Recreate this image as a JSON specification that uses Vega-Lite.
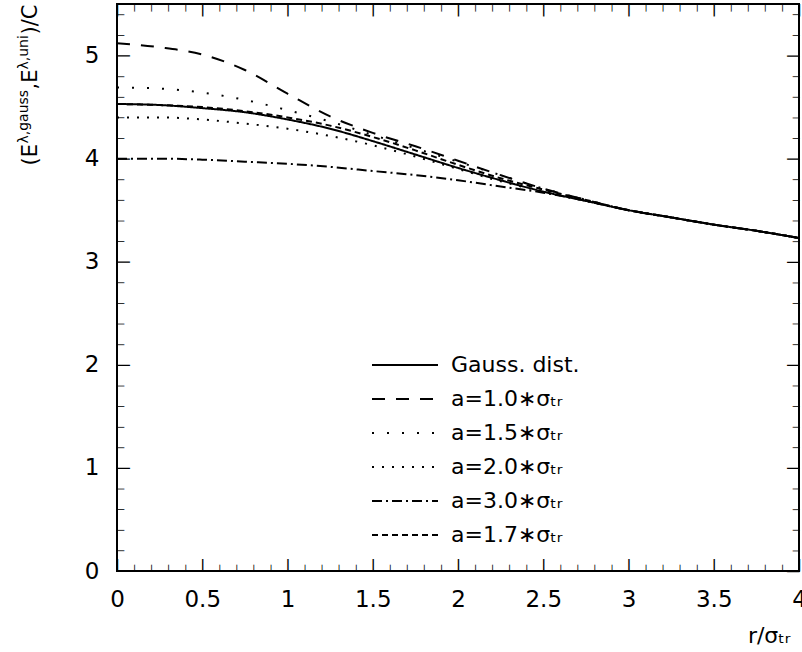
{
  "$schema": "https://vega.github.io/schema/vega-lite/v6.json",
  "width": 682,
  "height": 567,
  "autosize": {"type": "none"},
  "padding": {"left": 117, "top": 4, "right": 3, "bottom": 81},
  "background": "white",
  "config": {
    "font": "DejaVu Sans",
    "view": {"stroke": "black", "strokeWidth": 2},
    "axis": {
      "domain": false,
      "ticks": false,
      "grid": false,
      "labelFont": "DejaVu Sans",
      "labelFontSize": 23,
      "labelColor": "black",
      "labelOverlap": false,
      "labelFlush": false,
      "titleFont": "DejaVu Sans",
      "titleColor": "black",
      "titleFontWeight": "normal"
    }
  },
  "datasets": {
    "curves": [
      {"r": 0, "E": 4.53, "curve": "Gauss. dist."},
      {"r": 0.25, "E": 4.52, "curve": "Gauss. dist."},
      {"r": 0.5, "E": 4.49, "curve": "Gauss. dist."},
      {"r": 0.75, "E": 4.45, "curve": "Gauss. dist."},
      {"r": 1.0, "E": 4.38, "curve": "Gauss. dist."},
      {"r": 1.25, "E": 4.29, "curve": "Gauss. dist."},
      {"r": 1.5, "E": 4.17, "curve": "Gauss. dist."},
      {"r": 1.75, "E": 4.04, "curve": "Gauss. dist."},
      {"r": 2.0, "E": 3.91, "curve": "Gauss. dist."},
      {"r": 2.25, "E": 3.79, "curve": "Gauss. dist."},
      {"r": 2.5, "E": 3.68, "curve": "Gauss. dist."},
      {"r": 2.75, "E": 3.59, "curve": "Gauss. dist."},
      {"r": 3.0, "E": 3.50, "curve": "Gauss. dist."},
      {"r": 3.25, "E": 3.43, "curve": "Gauss. dist."},
      {"r": 3.5, "E": 3.36, "curve": "Gauss. dist."},
      {"r": 3.75, "E": 3.30, "curve": "Gauss. dist."},
      {"r": 4.0, "E": 3.23, "curve": "Gauss. dist."},

      {"r": 0, "E": 5.12, "curve": "a=1.0∗σₜᵣ"},
      {"r": 0.25, "E": 5.08, "curve": "a=1.0∗σₜᵣ"},
      {"r": 0.5, "E": 5.01, "curve": "a=1.0∗σₜᵣ"},
      {"r": 0.75, "E": 4.86, "curve": "a=1.0∗σₜᵣ"},
      {"r": 1.0, "E": 4.63, "curve": "a=1.0∗σₜᵣ"},
      {"r": 1.25, "E": 4.41, "curve": "a=1.0∗σₜᵣ"},
      {"r": 1.5, "E": 4.25, "curve": "a=1.0∗σₜᵣ"},
      {"r": 1.75, "E": 4.12, "curve": "a=1.0∗σₜᵣ"},
      {"r": 2.0, "E": 3.98, "curve": "a=1.0∗σₜᵣ"},
      {"r": 2.25, "E": 3.84, "curve": "a=1.0∗σₜᵣ"},
      {"r": 2.5, "E": 3.71, "curve": "a=1.0∗σₜᵣ"},
      {"r": 2.75, "E": 3.60, "curve": "a=1.0∗σₜᵣ"},
      {"r": 3.0, "E": 3.50, "curve": "a=1.0∗σₜᵣ"},
      {"r": 3.25, "E": 3.43, "curve": "a=1.0∗σₜᵣ"},
      {"r": 3.5, "E": 3.36, "curve": "a=1.0∗σₜᵣ"},
      {"r": 3.75, "E": 3.30, "curve": "a=1.0∗σₜᵣ"},
      {"r": 4.0, "E": 3.23, "curve": "a=1.0∗σₜᵣ"},

      {"r": 0, "E": 4.69, "curve": "a=1.5∗σₜᵣ"},
      {"r": 0.25, "E": 4.68, "curve": "a=1.5∗σₜᵣ"},
      {"r": 0.5, "E": 4.64, "curve": "a=1.5∗σₜᵣ"},
      {"r": 0.75, "E": 4.57, "curve": "a=1.5∗σₜᵣ"},
      {"r": 1.0, "E": 4.47, "curve": "a=1.5∗σₜᵣ"},
      {"r": 1.25, "E": 4.36, "curve": "a=1.5∗σₜᵣ"},
      {"r": 1.5, "E": 4.23, "curve": "a=1.5∗σₜᵣ"},
      {"r": 1.75, "E": 4.10, "curve": "a=1.5∗σₜᵣ"},
      {"r": 2.0, "E": 3.97, "curve": "a=1.5∗σₜᵣ"},
      {"r": 2.25, "E": 3.84, "curve": "a=1.5∗σₜᵣ"},
      {"r": 2.5, "E": 3.71, "curve": "a=1.5∗σₜᵣ"},
      {"r": 2.75, "E": 3.60, "curve": "a=1.5∗σₜᵣ"},
      {"r": 3.0, "E": 3.50, "curve": "a=1.5∗σₜᵣ"},
      {"r": 3.25, "E": 3.43, "curve": "a=1.5∗σₜᵣ"},
      {"r": 3.5, "E": 3.36, "curve": "a=1.5∗σₜᵣ"},
      {"r": 3.75, "E": 3.30, "curve": "a=1.5∗σₜᵣ"},
      {"r": 4.0, "E": 3.23, "curve": "a=1.5∗σₜᵣ"},

      {"r": 0, "E": 4.40, "curve": "a=2.0∗σₜᵣ"},
      {"r": 0.25, "E": 4.40, "curve": "a=2.0∗σₜᵣ"},
      {"r": 0.5, "E": 4.38, "curve": "a=2.0∗σₜᵣ"},
      {"r": 0.75, "E": 4.34, "curve": "a=2.0∗σₜᵣ"},
      {"r": 1.0, "E": 4.29, "curve": "a=2.0∗σₜᵣ"},
      {"r": 1.25, "E": 4.22, "curve": "a=2.0∗σₜᵣ"},
      {"r": 1.5, "E": 4.13, "curve": "a=2.0∗σₜᵣ"},
      {"r": 1.75, "E": 4.02, "curve": "a=2.0∗σₜᵣ"},
      {"r": 2.0, "E": 3.90, "curve": "a=2.0∗σₜᵣ"},
      {"r": 2.25, "E": 3.78, "curve": "a=2.0∗σₜᵣ"},
      {"r": 2.5, "E": 3.68, "curve": "a=2.0∗σₜᵣ"},
      {"r": 2.75, "E": 3.59, "curve": "a=2.0∗σₜᵣ"},
      {"r": 3.0, "E": 3.50, "curve": "a=2.0∗σₜᵣ"},
      {"r": 3.25, "E": 3.43, "curve": "a=2.0∗σₜᵣ"},
      {"r": 3.5, "E": 3.36, "curve": "a=2.0∗σₜᵣ"},
      {"r": 3.75, "E": 3.30, "curve": "a=2.0∗σₜᵣ"},
      {"r": 4.0, "E": 3.23, "curve": "a=2.0∗σₜᵣ"},

      {"r": 0, "E": 4.00, "curve": "a=3.0∗σₜᵣ"},
      {"r": 0.25, "E": 4.00, "curve": "a=3.0∗σₜᵣ"},
      {"r": 0.5, "E": 3.99, "curve": "a=3.0∗σₜᵣ"},
      {"r": 0.75, "E": 3.97, "curve": "a=3.0∗σₜᵣ"},
      {"r": 1.0, "E": 3.95, "curve": "a=3.0∗σₜᵣ"},
      {"r": 1.25, "E": 3.92, "curve": "a=3.0∗σₜᵣ"},
      {"r": 1.5, "E": 3.88, "curve": "a=3.0∗σₜᵣ"},
      {"r": 1.75, "E": 3.84, "curve": "a=3.0∗σₜᵣ"},
      {"r": 2.0, "E": 3.79, "curve": "a=3.0∗σₜᵣ"},
      {"r": 2.25, "E": 3.73, "curve": "a=3.0∗σₜᵣ"},
      {"r": 2.5, "E": 3.67, "curve": "a=3.0∗σₜᵣ"},
      {"r": 2.75, "E": 3.59, "curve": "a=3.0∗σₜᵣ"},
      {"r": 3.0, "E": 3.50, "curve": "a=3.0∗σₜᵣ"},
      {"r": 3.25, "E": 3.43, "curve": "a=3.0∗σₜᵣ"},
      {"r": 3.5, "E": 3.36, "curve": "a=3.0∗σₜᵣ"},
      {"r": 3.75, "E": 3.30, "curve": "a=3.0∗σₜᵣ"},
      {"r": 4.0, "E": 3.23, "curve": "a=3.0∗σₜᵣ"},

      {"r": 0, "E": 4.53, "curve": "a=1.7∗σₜᵣ"},
      {"r": 0.25, "E": 4.52, "curve": "a=1.7∗σₜᵣ"},
      {"r": 0.5, "E": 4.50, "curve": "a=1.7∗σₜᵣ"},
      {"r": 0.75, "E": 4.46, "curve": "a=1.7∗σₜᵣ"},
      {"r": 1.0, "E": 4.40, "curve": "a=1.7∗σₜᵣ"},
      {"r": 1.25, "E": 4.32, "curve": "a=1.7∗σₜᵣ"},
      {"r": 1.5, "E": 4.21, "curve": "a=1.7∗σₜᵣ"},
      {"r": 1.75, "E": 4.08, "curve": "a=1.7∗σₜᵣ"},
      {"r": 2.0, "E": 3.94, "curve": "a=1.7∗σₜᵣ"},
      {"r": 2.25, "E": 3.81, "curve": "a=1.7∗σₜᵣ"},
      {"r": 2.5, "E": 3.70, "curve": "a=1.7∗σₜᵣ"},
      {"r": 2.75, "E": 3.60, "curve": "a=1.7∗σₜᵣ"},
      {"r": 3.0, "E": 3.50, "curve": "a=1.7∗σₜᵣ"},
      {"r": 3.25, "E": 3.43, "curve": "a=1.7∗σₜᵣ"},
      {"r": 3.5, "E": 3.36, "curve": "a=1.7∗σₜᵣ"},
      {"r": 3.75, "E": 3.30, "curve": "a=1.7∗σₜᵣ"},
      {"r": 4.0, "E": 3.23, "curve": "a=1.7∗σₜᵣ"}
    ]
  },
  "data": {"name": "curves"},
  "layer": [
    {
      "mark": {"type": "line", "interpolate": "monotone", "strokeWidth": 2, "color": "black"},
      "encoding": {
        "x": {
          "field": "r", "type": "quantitative",
          "scale": {"domain": [0, 4], "nice": false, "zero": false},
          "axis": {
            "orient": "bottom",
            "values": [0, 0.5, 1, 1.5, 2, 2.5, 3, 3.5, 4],
            "format": "~g",
            "labelPadding": 17,
            "title": "r/σₜᵣ",
            "titleFontSize": 22,
            "titleAlign": "right",
            "titleBaseline": "middle",
            "titleX": 673,
            "titleY": 64
          }
        },
        "y": {
          "field": "E", "type": "quantitative",
          "scale": {"domain": [0, 5.5], "nice": false, "zero": false},
          "axis": {
            "orient": "left",
            "values": [0, 1, 2, 3, 4, 5],
            "format": "d",
            "labelPadding": 18,
            "title": "(E",
            "titleFontSize": 21,
            "titleAngle": 270,
            "titleAlign": "left",
            "titleBaseline": "alphabetic",
            "titleX": -81,
            "titleY": 161
          }
        },
        "strokeDash": {
          "field": "curve", "type": "nominal",
          "scale": {
            "domain": ["Gauss. dist.", "a=1.0∗σₜᵣ", "a=1.5∗σₜᵣ", "a=2.0∗σₜᵣ", "a=3.0∗σₜᵣ", "a=1.7∗σₜᵣ"],
            "range": [[1, 0], [13, 11], [2, 13], [2, 8], [10, 4, 2, 4], [6, 4]]
          },
          "legend": {
            "title": null,
            "orient": "none",
            "legendX": 304,
            "legendY": 350,
            "padding": 0,
            "symbolType": "M-6,0H0.6",
            "symbolSize": 400,
            "symbolStrokeWidth": 2,
            "symbolStrokeColor": "black",
            "labelFont": "DejaVu Sans",
            "labelFontSize": 22,
            "labelColor": "black",
            "labelOffset": 8,
            "labelLimit": 400,
            "rowPadding": 12
          }
        }
      }
    },
    {
      "mark": {"type": "point", "opacity": 0},
      "encoding": {
        "x": {
          "field": "r", "type": "quantitative",
          "axis": {
            "orient": "bottom", "title": null, "tickSize": 0,
            "values": [0, 0.5, 1, 1.5, 2, 2.5, 3, 3.5, 4],
            "labelExpr": "'|'", "labelFontSize": 12, "labelFontWeight": "bold",
            "labelAngle": 0, "labelAlign": "center", "labelBaseline": "alphabetic",
            "labelPadding": -2.8
          }
        },
        "y": {
          "field": "E", "type": "quantitative",
          "axis": {
            "orient": "left", "tickSize": 0,
            "values": [0, 1, 2, 3, 4, 5],
            "labelExpr": "'|'", "labelFontSize": 12, "labelFontWeight": "bold",
            "labelAngle": 90, "labelAlign": "center", "labelBaseline": "alphabetic",
            "labelPadding": -2.8,
            "title": "λ,gauss",
            "titleFontSize": 14,
            "titleAngle": 270,
            "titleAlign": "left",
            "titleBaseline": "alphabetic",
            "titleX": -90,
            "titleY": 139
          }
        }
      }
    },
    {
      "mark": {"type": "point", "opacity": 0},
      "encoding": {
        "x": {
          "field": "r", "type": "quantitative",
          "axis": {
            "orient": "bottom", "title": null, "tickSize": 0,
            "values": [0.1, 0.2, 0.3, 0.4, 0.6, 0.7, 0.8, 0.9, 1.1, 1.2, 1.3, 1.4, 1.6, 1.7, 1.8, 1.9, 2.1, 2.2, 2.3, 2.4, 2.6, 2.7, 2.8, 2.9, 3.1, 3.2, 3.3, 3.4, 3.6, 3.7, 3.8, 3.9],
            "labelExpr": "'|'", "labelFontSize": 7, "labelFontWeight": "bold",
            "labelAngle": 0, "labelAlign": "center", "labelBaseline": "alphabetic",
            "labelPadding": -1.7
          }
        },
        "y": {
          "field": "E", "type": "quantitative",
          "axis": {
            "orient": "left", "tickSize": 0,
            "values": [0.2, 0.4, 0.6, 0.8, 1.2, 1.4, 1.6, 1.8, 2.2, 2.4, 2.6, 2.8, 3.2, 3.4, 3.6, 3.8, 4.2, 4.4, 4.6, 4.8, 5.2, 5.4],
            "labelExpr": "'|'", "labelFontSize": 7, "labelFontWeight": "bold",
            "labelAngle": 90, "labelAlign": "center", "labelBaseline": "alphabetic",
            "labelPadding": -1.7,
            "title": ",E",
            "titleFontSize": 21,
            "titleAngle": 270,
            "titleAlign": "left",
            "titleBaseline": "alphabetic",
            "titleX": -81,
            "titleY": 85
          }
        }
      }
    },
    {
      "mark": {"type": "point", "opacity": 0},
      "encoding": {
        "x": {
          "field": "r", "type": "quantitative",
          "axis": {
            "orient": "top", "title": null, "tickSize": 0,
            "values": [0, 0.5, 1, 1.5, 2, 2.5, 3, 3.5, 4],
            "labelExpr": "'|'", "labelFontSize": 12, "labelFontWeight": "bold",
            "labelAngle": 0, "labelAlign": "center", "labelBaseline": "alphabetic",
            "labelPadding": -9.1
          }
        },
        "y": {
          "field": "E", "type": "quantitative",
          "axis": {
            "orient": "right", "tickSize": 0,
            "values": [0, 1, 2, 3, 4, 5],
            "labelExpr": "'|'", "labelFontSize": 12, "labelFontWeight": "bold",
            "labelAngle": 270, "labelAlign": "center", "labelBaseline": "alphabetic",
            "labelPadding": -2.8,
            "title": "λ,uni",
            "titleFontSize": 14,
            "titleAngle": 270,
            "titleAlign": "left",
            "titleBaseline": "alphabetic",
            "titleX": -772,
            "titleY": 65
          }
        }
      }
    },
    {
      "mark": {"type": "point", "opacity": 0},
      "encoding": {
        "x": {
          "field": "r", "type": "quantitative",
          "axis": {
            "orient": "top", "title": null, "tickSize": 0,
            "values": [0.1, 0.2, 0.3, 0.4, 0.6, 0.7, 0.8, 0.9, 1.1, 1.2, 1.3, 1.4, 1.6, 1.7, 1.8, 1.9, 2.1, 2.2, 2.3, 2.4, 2.6, 2.7, 2.8, 2.9, 3.1, 3.2, 3.3, 3.4, 3.6, 3.7, 3.8, 3.9],
            "labelExpr": "'|'", "labelFontSize": 7, "labelFontWeight": "bold",
            "labelAngle": 0, "labelAlign": "center", "labelBaseline": "alphabetic",
            "labelPadding": -5.3
          }
        },
        "y": {
          "field": "E", "type": "quantitative",
          "axis": {
            "orient": "right", "tickSize": 0,
            "values": [0.2, 0.4, 0.6, 0.8, 1.2, 1.4, 1.6, 1.8, 2.2, 2.4, 2.6, 2.8, 3.2, 3.4, 3.6, 3.8, 4.2, 4.4, 4.6, 4.8, 5.2, 5.4],
            "labelExpr": "'|'", "labelFontSize": 7, "labelFontWeight": "bold",
            "labelAngle": 270, "labelAlign": "center", "labelBaseline": "alphabetic",
            "labelPadding": -1.7,
            "title": ")/C",
            "titleFontSize": 21,
            "titleAngle": 270,
            "titleAlign": "left",
            "titleBaseline": "alphabetic",
            "titleX": -763,
            "titleY": 30
          }
        }
      }
    }
  ],
  "resolve": {"axis": {"x": "independent", "y": "independent"}}
}
